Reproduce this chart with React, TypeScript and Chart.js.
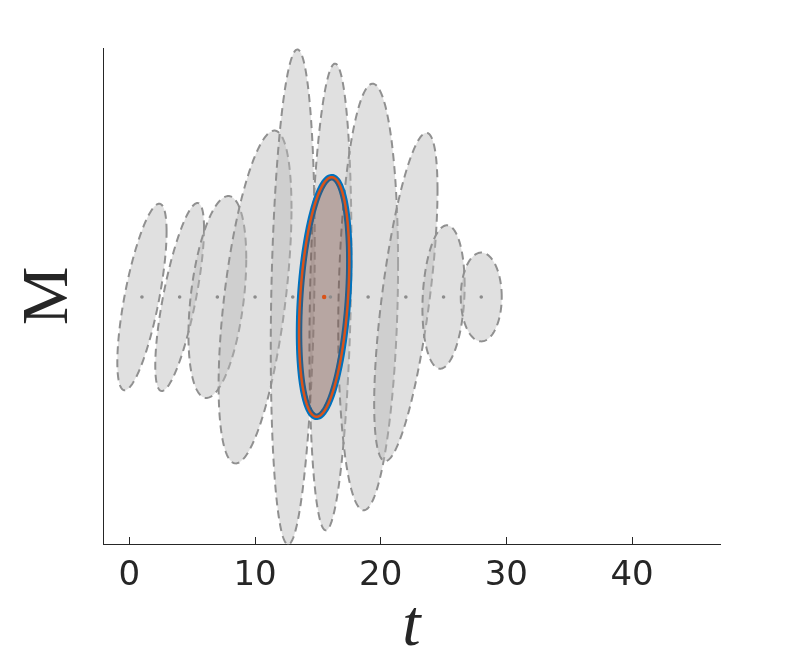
import React, { useEffect, useRef } from "react";
import { Chart, registerables } from "chart.js";

Chart.register(...registerables);

// ---- data ----
const tickValues = [0, 10, 20, 30, 40];
const centerT = [1, 4, 7, 10, 13, 16, 19, 22, 25, 28];
const centerM = [0, 0, 0, 0, 0, 0, 0, 0, 0, 0];
const spreadT = [1.96, 1.94, 2.3, 2.9, 1.75, 1.67, 2.38, 2.52, 1.68, 1.63];
const spreadM = [0.376, 0.379, 0.407, 0.671, 0.998, 0.941, 0.86, 0.662, 0.289, 0.179];
const corr = [0.7, 0.73, 0.38, 0.53, 0.21, 0.22, 0.15, 0.65, 0.16, 0.0];

const highlightT = [15.5];
const highlightM = [0];
const highlightSpreadT = [2.0];
const highlightSpreadM = [0.483];
const highlightCorr = [0.3];

const xMin = -2.1;
const xMax = 47;
const yMin = -0.996;
const yMax = 1.004;

const TEXT = "#262626";

function ellipsePath(chart: any, ct: number, cm: number, st: number, sm: number, r: number) {
  const { ctx, scales } = chart;
  const xs = scales.x;
  const ys = scales.y;
  const q = Math.sqrt(1 - r * r);
  const N = 240;
  ctx.beginPath();
  for (let i = 0; i <= N; i++) {
    const th = (i / N) * 2 * Math.PI;
    const t = ct + st * Math.cos(th);
    const m = cm + sm * (r * Math.cos(th) + q * Math.sin(th));
    const px = xs.getPixelForValue(t);
    const py = ys.getPixelForValue(m);
    if (i === 0) ctx.moveTo(px, py);
    else ctx.lineTo(px, py);
  }
  ctx.closePath();
}

const ellipsePlugin = {
  id: "ellipses",
  beforeDatasetsDraw(chart: any) {
    const { ctx } = chart;
    ctx.save();
    for (let i = 0; i < centerT.length; i++) {
      ellipsePath(chart, centerT[i], centerM[i], spreadT[i], spreadM[i], corr[i]);
      ctx.fillStyle = "rgba(186,186,186,0.45)";
      ctx.fill();
      ctx.setLineDash([8, 5]);
      ctx.lineWidth = 2;
      ctx.strokeStyle = "#909090";
      ctx.stroke();
    }
    ctx.setLineDash([]);
    for (let i = 0; i < highlightT.length; i++) {
      ellipsePath(chart, highlightT[i], highlightM[i], highlightSpreadT[i], highlightSpreadM[i], highlightCorr[i]);
      ctx.lineWidth = 6.5;
      ctx.strokeStyle = "#0072BD";
      ctx.stroke();
      ctx.fillStyle = "rgba(110,60,50,0.35)";
      ctx.fill();
      ctx.lineWidth = 2.5;
      ctx.strokeStyle = "#D95319";
      ctx.stroke();
    }
    ctx.restore();
  },
};

export default function App() {
  const canvasRef = useRef<HTMLCanvasElement | null>(null);

  useEffect(() => {
    if (!canvasRef.current) return;
    const chart = new Chart(canvasRef.current, {
      type: "scatter",
      data: {
        datasets: [
          {
            label: "centers",
            data: centerT.map((t, i) => ({ x: t, y: centerM[i] })),
            pointRadius: 1.8,
            pointBackgroundColor: "#8c8c8c",
            pointBorderWidth: 0,
            showLine: false,
          },
          {
            label: "selected",
            data: highlightT.map((t, i) => ({ x: t, y: highlightM[i] })),
            pointRadius: 2.2,
            pointBackgroundColor: "#D95319",
            pointBorderWidth: 0,
            showLine: false,
          },
        ],
      },
      options: {
        animation: false,
        responsive: false,
        events: [],
        layout: { padding: { top: 48, right: 77, left: 0, bottom: 0 } },
        plugins: {
          legend: { display: false },
          tooltip: { enabled: false },
        },
        scales: {
          x: {
            type: "linear",
            position: "bottom",
            min: xMin,
            max: xMax,
            afterBuildTicks: (s: any) => {
              s.ticks = tickValues.map((v) => ({ value: v }));
            },
            afterFit: (s: any) => {
              s.height = 128;
            },
            ticks: {
              autoSkip: false,
              maxRotation: 0,
              padding: 19,
              color: TEXT,
              font: { family: "DejaVu Sans", size: 34 },
            },
            grid: {
              display: true,
              drawOnChartArea: false,
              drawTicks: true,
              tickLength: -7,
              color: TEXT,
              lineWidth: 1,
            },
            border: { display: true, color: TEXT, width: 1 },
            title: {
              display: true,
              text: "t",
              color: TEXT,
              font: { family: "Liberation Serif", size: 66, style: "italic", lineHeight: 1 },
              padding: { top: 0, bottom: 11 },
            },
          },
          y: {
            type: "linear",
            min: yMin,
            max: yMax,
            afterFit: (s: any) => {
              s.width = 103;
            },
            ticks: { display: false },
            grid: { display: false },
            border: { display: true, color: TEXT, width: 1 },
            title: {
              display: true,
              text: "M",
              color: TEXT,
              font: { family: "Liberation Serif", size: 66, lineHeight: 1 },
              padding: { top: 17, bottom: 0 },
            },
          },
        },
      },
      plugins: [ellipsePlugin],
    } as any);
    return () => chart.destroy();
  }, []);

  return (
    <div style={{ position: "fixed", left: 0, top: 0, width: 797, height: 672, background: "#fff" }}>
      <canvas ref={canvasRef} width={797} height={672} style={{ display: "block" }} />
    </div>
  );
}
